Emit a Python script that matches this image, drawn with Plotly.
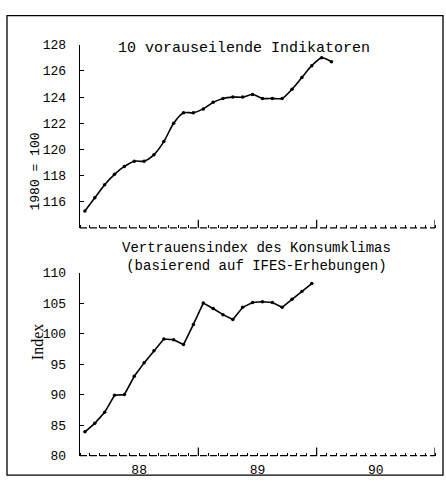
import plotly.graph_objects as go

# ---- data (monthly, Jan 1988 onwards) ----
start_year = 1988
ind10 = [115.3, 116.3, 117.3, 118.1, 118.7, 119.1, 119.1, 119.6, 120.6, 122.0, 122.8, 122.8,
         123.1, 123.6, 123.9, 124.0, 124.0, 124.2, 123.9, 123.9, 123.9, 124.6, 125.5, 126.4,
         127.0, 126.7]
konsum = [83.9, 85.3, 87.1, 89.9, 90.0, 93.0, 95.2, 97.2, 99.1, 99.0, 98.2, 101.5,
          105.0, 104.1, 103.1, 102.3, 104.3, 105.1, 105.2, 105.1, 104.3, 105.6, 106.9, 108.2]
year_labels = ["88", "89", "90"]
year_label_pos = [1988.5, 1989.5, 1990.5]
year_ticks = [1989, 1990, 1991]

x_top = [start_year + (m + 0.5) / 12 for m in range(len(ind10))]
x_bot = [start_year + (m + 0.5) / 12 for m in range(len(konsum))]

W, H = 446, 486
MONO = "Liberation Mono, DejaVu Sans Mono, monospace"

def px(x):
    return x / W

def py(y):
    return (H - y) / H

fig = go.Figure()
fig.add_trace(go.Scatter(x=x_top, y=ind10, mode="lines+markers",
                         line=dict(color="black", width=1.6, shape="spline", smoothing=0.8),
                         marker=dict(size=3.5, color="black"),
                         xaxis="x", yaxis="y", showlegend=False))
fig.add_trace(go.Scatter(x=x_bot, y=konsum, mode="lines+markers",
                         line=dict(color="black", width=1.6),
                         marker=dict(size=3.5, color="black"),
                         xaxis="x2", yaxis="y2", showlegend=False))

xdom = [px(80), px(435)]
common_x = dict(range=[1988, 1991], domain=xdom, showgrid=False, zeroline=False,
                showline=False, tickmode="array", tickvals=year_label_pos,
                ticks="", fixedrange=True,
                minor=dict(ticks="inside", ticklen=3, tickcolor="black", tickwidth=1,
                           tick0=1988, dtick=1 / 12, showgrid=False))
common_y = dict(showgrid=False, zeroline=False, showline=True, linecolor="black",
                linewidth=1.3, ticks="inside", ticklen=4, tickcolor="black",
                ticklabelstandoff=10, fixedrange=True,
                tickfont=dict(family=MONO, size=13, color="black"))

fig.update_layout(
    width=W, height=H, margin=dict(l=0, r=0, t=0, b=0),
    paper_bgcolor="white", plot_bgcolor="white",
    xaxis=dict(**common_x, anchor="y", showticklabels=False),
    yaxis=dict(**common_y, range=[114, 128], domain=[py(229), py(40)],
               tickvals=[116, 118, 120, 122, 124, 126, 128], anchor="x"),
    xaxis2=dict(**common_x, anchor="y2", ticktext=year_labels,
                tickfont=dict(family=MONO, size=13, color="black"),
                ticklabelstandoff=4),
    yaxis2=dict(**common_y, range=[80, 110], domain=[py(464), py(275)],
                tickvals=[80, 85, 90, 95, 100, 105, 110], anchor="x2"),
)

shapes = []
# dashed x baselines and year ticks
for yref in ["y domain", "y2 domain"]:
    xr = "x" if yref == "y domain" else "x2"
    shapes.append(dict(type="line", xref=xr, yref=yref, x0=1988, x1=1991, y0=0, y1=0,
                       line=dict(color="black", width=1.3, dash="7px,3px")))
    for yt in year_ticks:
        shapes.append(dict(type="line", xref=xr, yref=yref, x0=yt, x1=yt, y0=0, y1=0.045,
                           line=dict(color="black", width=1.2)))
# outer frame
shapes.append(dict(type="rect", xref="paper", yref="paper", x0=px(7), x1=px(443),
                   y0=py(484), y1=py(10), line=dict(color="black", width=1.3)))
fig.update_layout(shapes=shapes)

ann = [
    dict(text="10 vorauseilende Indikatoren", x=px(244), y=py(33), xref="paper", yref="paper",
         showarrow=False, font=dict(family=MONO, size=15, color="black")),
    dict(text="Vertrauensindex des Konsumklimas<br>(basierend auf IFES-Erhebungen)",
         x=px(256), y=py(259), xref="paper", yref="paper", showarrow=False,
         font=dict(family=MONO, size=14, color="black")),
    dict(text="1980 = 100", x=px(26), y=py(129), xref="paper", yref="paper", showarrow=False,
         textangle=-90, font=dict(family=MONO, size=13, color="black")),
    dict(text="Index", x=px(27), y=py(368), xref="paper", yref="paper", showarrow=False,
         textangle=-90, font=dict(family="Liberation Serif, serif", size=16, color="black")),
]
fig.update_layout(annotations=ann)

fig.write_html("out.html", config={"displayModeBar": False, "staticPlot": True},
               post_script="document.body.style.margin='0';document.body.style.overflow='hidden';")
